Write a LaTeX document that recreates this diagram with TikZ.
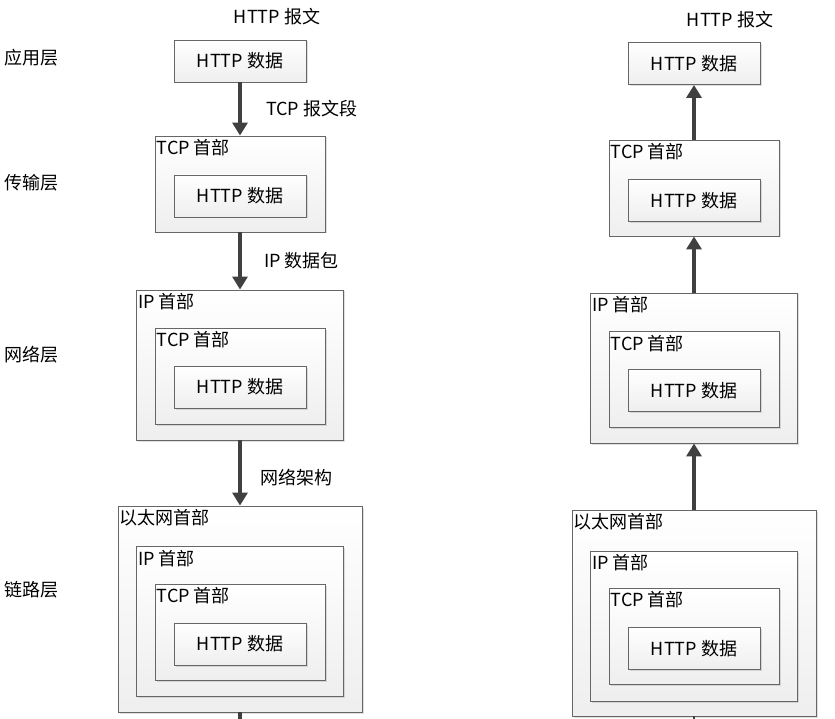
\documentclass[tikz,border=0pt]{standalone}
\usepackage{fontspec}
\setmainfont{Noto Sans CJK SC}
\usepackage{xcolor}
\usepackage{tikz}
\usetikzlibrary{shadows}
\usetikzlibrary{arrows.meta}
\usetikzlibrary{positioning}

\definecolor{boxline}{HTML}{666666}
\definecolor{arrowgray}{HTML}{404040}

\tikzset{
	pkt/.style = {draw = boxline, line width = 0.9pt, top color = white, bottom color = gray!13,
		drop shadow = {shadow xshift = 1.5pt, shadow yshift = -1.5pt, opacity = 0.25}, inner sep = 0pt},
	httpbox/.style = {pkt, minimum width = 132pt, minimum height = 42pt},
	tcpbox/.style = {pkt, minimum width = 170pt, minimum height = 96pt},
	ipbox/.style = {pkt, minimum width = 207pt, minimum height = 150pt},
	ethbox/.style = {pkt, minimum width = 244pt, minimum height = 206pt},
	hdr/.style = {anchor = north west, inner xsep = 2pt, inner ysep = 4pt},
	flow/.style = {line width = 4pt, draw = arrowgray, -{Triangle[width = 15pt, length = 13pt]}},
	layer/.style = {anchor = west, inner sep = 0pt}
}

\begin{document}
\begin{tikzpicture}[x = 1pt, y = -1pt, every node/.style = {font = \fontsize{18}{22}\selectfont}]
	\useasboundingbox (0, 0) rectangle (835, 719);
	
	% Layers
	\node[layer] (app) at (4, 58) {应用层};
	\node[layer] (trans) at (4, 183) {传输层};
	\node[layer] (net) at (4, 355) {网络层};
	\node[layer] (link) at (4, 590) {链路层};
	
	% Sending side
	\node (msgL) at (277, 17) {HTTP 报文};
	\node[httpbox] (a1) at (240, 61) {HTTP 数据};
	
	\node[tcpbox] (b1) at (240, 184) {};
	\node[hdr] at (b1.north west) {TCP 首部};
	\node[httpbox] (b1h) at (240, 196) {HTTP 数据};
	
	\node[ipbox] (c1) at (240, 365) {};
	\node[hdr] at (c1.north west) {IP 首部};
	\node[tcpbox] (c1t) at (240, 376) {};
	\node[hdr] at (c1t.north west) {TCP 首部};
	\node[httpbox] (c1h) at (240, 387) {HTTP 数据};
	
	\node[ethbox] (d1) at (240, 609) {};
	\node[hdr] at (d1.north west) {以太网首部};
	\node[ipbox] (d1i) at (240, 621.5) {};
	\node[hdr] at (d1i.north west) {IP 首部};
	\node[tcpbox] (d1t) at (240, 632) {};
	\node[hdr] at (d1t.north west) {TCP 首部};
	\node[httpbox] (d1h) at (240, 644) {HTTP 数据};
	\coordinate (endL) at (240, 722);
	
	% Receiving side
	\node (msgR) at (730, 20) {HTTP 报文};
	\node[httpbox] (a2) at (694, 63.5) {HTTP 数据};
	
	\node[tcpbox] (b2) at (694, 188) {};
	\node[hdr] at (b2.north west) {TCP 首部};
	\node[httpbox] (b2h) at (694, 200.5) {HTTP 数据};
	
	\node[ipbox] (c2) at (694, 368) {};
	\node[hdr] at (c2.north west) {IP 首部};
	\node[tcpbox] (c2t) at (694, 379.5) {};
	\node[hdr] at (c2t.north west) {TCP 首部};
	\node[httpbox] (c2h) at (694, 390.5) {HTTP 数据};
	
	\node[ethbox] (d2) at (694, 613) {};
	\node[hdr] at (d2.north west) {以太网首部};
	\node[ipbox] (d2i) at (694, 626) {};
	\node[hdr] at (d2i.north west) {IP 首部};
	\node[tcpbox] (d2t) at (694, 636) {};
	\node[hdr] at (d2t.north west) {TCP 首部};
	\node[httpbox] (d2h) at (694, 648.5) {HTTP 数据};
	\coordinate (endR) at (694, 722);
	
	% Edges
	\draw[flow] (a1) to node[midway, right = 24pt, inner sep = 0pt] {TCP 报文段} (b1);
	\draw[flow] (b1) to node[midway, right = 22pt, inner sep = 0pt] {IP 数据包} (c1);
	\draw[flow] (c1) to node[midway, right = 18pt, inner sep = 0pt, yshift = -5pt] {网络架构} (d1);
	\draw[line width = 4pt, draw = arrowgray] (d1) to (endL);
	
	\draw[flow] (b2) to (a2);
	\draw[flow] (c2) to (b2);
	\draw[flow] (d2) to (c2);
	\draw[line width = 1.5pt, draw = arrowgray] (d2) to (endR);
\end{tikzpicture}
\end{document}
